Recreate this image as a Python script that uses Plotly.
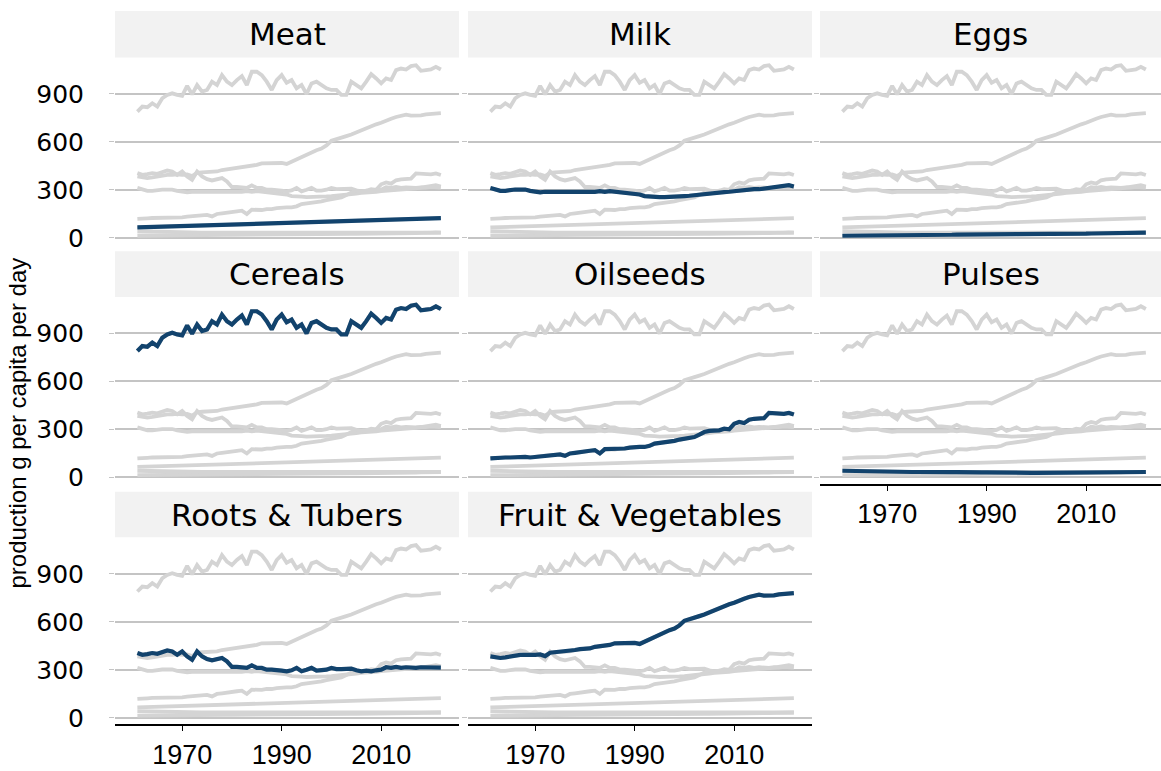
import plotly.graph_objects as go

years = list(range(1961, 2023))

meat = [65, 66, 67, 68, 69, 70, 71, 72, 73, 74,
        75, 76, 76, 77, 78, 79, 80, 81, 82, 83,
        83, 84, 85, 86, 87, 88, 89, 90, 90, 91,
        91, 92, 93, 94, 95, 95, 97, 98, 99, 100,
        101, 102, 103, 105, 106, 107, 108, 110, 111, 112,
        113, 115, 116, 117, 118, 119, 120, 120, 119, 120,
        122, 123]
milk = [312, 302, 294, 294, 300, 302, 302, 302, 294, 288,
        284, 288, 288, 288, 286, 284, 288, 288, 288, 286,
        284, 288, 292, 288, 292, 288, 286, 284, 281, 277,
        271, 261, 257, 257, 255, 255, 255, 257, 259, 261,
        263, 267, 271, 275, 277, 281, 282, 286, 288, 292,
        294, 298, 298, 304, 304, 308, 310, 314, 318, 325,
        329, 321]
eggs = [13, 13, 14, 14, 14, 15, 15, 15, 16, 16,
        16, 17, 17, 17, 17, 17, 18, 18, 18, 19,
        19, 19, 19, 20, 20, 20, 21, 21, 21, 21,
        21, 21, 22, 22, 23, 22, 22, 23, 23, 23,
        24, 24, 24, 24, 25, 25, 25, 26, 26, 26,
        27, 27, 27, 28, 28, 29, 30, 31, 31, 32,
        32, 33]
cereals = [790, 821, 817, 842, 821, 873, 894, 904, 894, 888,
           950, 898, 956, 915, 925, 977, 956, 1018, 977, 956,
           987, 1012, 956, 1039, 1039, 1018, 977, 925, 987, 1018,
           970, 987, 935, 956, 900, 966, 977, 956, 935, 925,
           925, 894, 894, 977, 956, 935, 977, 1024, 997, 966,
           997, 987, 1049, 1059, 1053, 1074, 1080, 1045, 1049, 1053,
           1070, 1053]
oilseeds = [118, 122, 122, 124, 124, 126, 126, 128, 124, 128,
            132, 134, 139, 139, 143, 134, 149, 153, 159, 159,
            166, 170, 149, 176, 176, 174, 180, 180, 186, 190,
            190, 190, 197, 211, 215, 217, 221, 228, 236, 242,
            242, 252, 267, 283, 290, 290, 294, 304, 300, 335,
            346, 339, 360, 366, 366, 370, 403, 401, 397, 397,
            403, 393]
pulses = [41, 40, 40, 39, 37, 36, 36, 36, 35, 35,
          35, 33, 34, 33, 33, 33, 32, 33, 31, 31,
          31, 32, 32, 32, 33, 33, 32, 31, 31, 31,
          30, 29, 29, 29, 29, 28, 28, 28, 28, 28,
          28, 29, 29, 28, 28, 28, 28, 29, 29, 30,
          30, 30, 31, 31, 31, 33, 33, 33, 33, 33,
          34, 33]
roots = [405, 394, 398, 405, 400, 409, 421, 415, 394, 415,
         384, 363, 415, 384, 367, 359, 367, 374, 353, 318,
         318, 316, 312, 328, 312, 312, 301, 301, 295, 295,
         291, 297, 312, 291, 301, 312, 295, 295, 301, 312,
         305, 305, 305, 308, 297, 291, 295, 291, 297, 301,
         316, 312, 318, 312, 316, 312, 312, 316, 314, 318,
         316, 314]
fruitveg = [384, 376, 374, 378, 384, 392, 394, 394, 397, 394,
            396, 386, 407, 410, 410, 413, 415, 424, 429, 429,
            434, 444, 446, 450, 456, 466, 467, 467, 472, 468,
            462, 477, 490, 503, 522, 538, 548, 558, 578, 607,
            615, 626, 636, 646, 659, 673, 687, 702, 710, 720,
            735, 745, 756, 766, 770, 764, 764, 766, 772, 776,
            780, 780]

categories = ["Meat", "Milk", "Eggs", "Cereals", "Oilseeds", "Pulses",
              "Roots & Tubers", "Fruit & Vegetables"]
series = [meat, milk, eggs, cereals, oilseeds, pulses, roots, fruitveg]
y_ticks = [0, 300, 600, 900]
x_ticks = [1970, 1990, 2010]

W, H = 1161, 771
BLUE = "#12436D"
GREY = "#d4d4d4"
GRID = "#c4c4c4"

col_px = [(115, 459), (468, 812), (820, 1161)]
row_px = [(58, 247), (300, 489), (543, 732)]
strip_px = [(11, 58), (254, 300), (497, 543)]
px_per_year = 4.975
x0 = 1956.5
y_range = [-41.5, 1128.8]

fig = go.Figure()
layout = {}
shapes = []
annotations = []

bottom_panels = {6, 7, 5}

for i, name in enumerate(categories):
    r, c = divmod(i, 3)
    idx = "" if i == 0 else str(i + 1)
    xa, ya = "x" + idx, "y" + idx
    for s in series:
        fig.add_trace(go.Scatter(x=years, y=s, mode="lines", xaxis=xa, yaxis=ya,
                                 line=dict(color=GREY, width=3.8), hoverinfo="skip",
                                 showlegend=False))
    fig.add_trace(go.Scatter(x=years, y=series[i], mode="lines", xaxis=xa, yaxis=ya,
                             line=dict(color=BLUE, width=4.2), name=name,
                             showlegend=False))
    cx0, cx1 = col_px[c]
    ry0, ry1 = row_px[r]
    is_bottom = i in bottom_panels
    layout["xaxis" + idx] = dict(
        domain=[cx0 / W, cx1 / W],
        range=[x0, x0 + (cx1 - cx0) / px_per_year],
        anchor=ya, showgrid=False, zeroline=False,
        showline=is_bottom, linecolor="black", linewidth=1.6,
        ticks="outside" if is_bottom else "", ticklen=5, tickwidth=1.3,
        tickcolor="black", tickvals=x_ticks, showticklabels=is_bottom,
        tickfont=dict(family="Liberation Sans, Arial, sans-serif", size=27, color="black"),
    )
    layout["yaxis" + idx] = dict(
        domain=[1 - ry1 / H, 1 - ry0 / H],
        range=y_range, anchor=xa,
        showgrid=True, gridcolor=GRID, gridwidth=1.6, zeroline=False,
        showline=False, ticks="outside", ticklen=5, tickcolor=GRID, tickwidth=1.3,
        tickvals=y_ticks, showticklabels=(c == 0),
        ticklabelstandoff=20,
        tickfont=dict(family="DejaVu Sans, sans-serif", size=25, color="black"),
    )
    sy0, sy1 = strip_px[r]
    shapes.append(dict(type="rect", xref="paper", yref="paper",
                       x0=cx0 / W, x1=cx1 / W, y0=1 - sy1 / H, y1=1 - sy0 / H,
                       fillcolor="#f2f2f2", line=dict(width=0), layer="below"))
    annotations.append(dict(text=name, xref="paper", yref="paper",
                            x=(cx0 + cx1) / 2 / W, y=1 - (sy0 + sy1) / 2 / H,
                            xanchor="center", yanchor="middle", showarrow=False,
                            font=dict(family="DejaVu Sans, sans-serif", size=31, color="black")))

annotations.append(dict(text="production g per capita per day", xref="paper", yref="paper",
                        x=18 / W, y=1 - 428 / H, textangle=-90, showarrow=False,
                        xanchor="center", yanchor="middle",
                        font=dict(family="Liberation Sans Narrow, Arial Narrow, sans-serif",
                                  size=24, color="black")))

fig.update_layout(width=W, height=H, margin=dict(l=0, r=0, t=0, b=0),
                  plot_bgcolor="white", paper_bgcolor="white",
                  shapes=shapes, annotations=annotations, **layout)

page_fix = (
    "var de=document.documentElement, b=document.body;"
    "de.style.margin='0';de.style.padding='0';de.style.overflow='hidden';"
    "de.style.height='771px';"
    "b.style.margin='0';b.style.padding='0';b.style.overflow='hidden';"
    "b.style.height='771px';b.style.lineHeight='0';"
    "document.querySelectorAll('body > div, .plotly-graph-div, .plot-container, .svg-container')"
    ".forEach(function(d){d.style.display='block';d.style.margin='0';d.style.padding='0';});"
)

fig.write_html("out.html", config={"displayModeBar": False}, post_script=page_fix)
